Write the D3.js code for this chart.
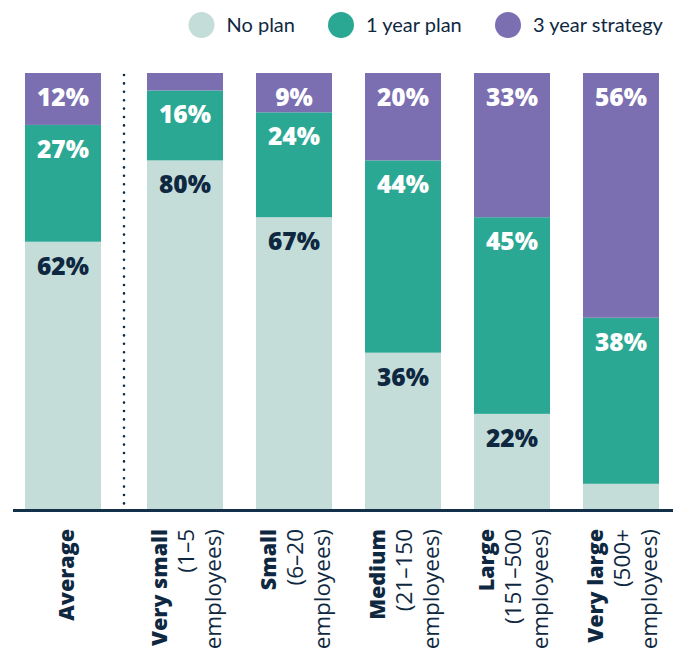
<!DOCTYPE html>
<html>
<head>
<meta charset="utf-8">
<script src="https://cdn.jsdelivr.net/npm/d3@7"></script>
<style>
  html, body { margin: 0; padding: 0; background: #fff; }
  svg { display: block; font-family: Lato, "Noto Sans", sans-serif; }
</style>
</head>
<body>
<svg id="chart" width="686" height="653"></svg>
<script>
// ---- data ----
const categories = ["Average", "Very small", "Small", "Medium", "Large", "Very large"];
const labelLines = [
  ["Average"],
  ["Very small", "(1–5", "employees)"],
  ["Small", "(6–20", "employees)"],
  ["Medium", "(21–150", "employees)"],
  ["Large", "(151–500", "employees)"],
  ["Very large", "(500+", "employees)"]
];
const seriesNames = ["No plan", "1 year plan", "3 year strategy"];
const noPlan       = [62, 80, 67, 36, 22, 6];
const oneYearPlan  = [27, 16, 24, 44, 45, 38];
const threeYear    = [12, 4, 9, 20, 33, 56];
const showLabel = [
  [true, true, true, true, true, false],
  [true, true, true, true, true, true],
  [true, false, true, true, true, true]
];
const colors = ["#c5ddd9", "#2ba894", "#7b6fb2"];
const textColors = ["#0f2841", "#ffffff", "#ffffff"];
const navy = "#0f2841";

// ---- build table ----
const table = categories.map((c, i) => ({
  cat: c, "No plan": noPlan[i], "1 year plan": oneYearPlan[i], "3 year strategy": threeYear[i]
}));
const stacked = d3.stack().keys(seriesNames).offset(d3.stackOffsetExpand)(table);

const svg = d3.select("#chart");

// ---- scales ----
const xAvg = d3.scaleBand().domain(["Average"]).range([25, 101]).padding(0);
const xGroups = d3.scaleBand().domain(categories.slice(1)).range([147, 659])
  .paddingInner(33 / 109).paddingOuter(0);
const xPos = c => c === "Average" ? xAvg(c) : xGroups(c);
const bw = xGroups.bandwidth();
const y = d3.scaleLinear().domain([0, 1]).range([510, 73]);

// ---- bars ----
const layers = svg.append("g").selectAll("g").data(stacked).join("g")
  .attr("fill", (d, i) => colors[i]);
layers.selectAll("rect").data(d => d).join("rect")
  .attr("x", d => xPos(d.data.cat))
  .attr("width", bw)
  .attr("y", d => y(d[1]))
  .attr("height", d => y(d[0]) - y(d[1]));

// ---- value labels ----
stacked.forEach((layer, si) => {
  svg.append("g").selectAll("text").data(layer.filter((d, i) => showLabel[si][i])).join("text")
    .attr("x", d => xPos(d.data.cat) + bw / 2)
    .attr("y", d => y(d[1]) + 33)
    .attr("text-anchor", "middle")
    .attr("font-family", "'Open Sans', sans-serif")
    .attr("font-size", 24.5)
    .attr("font-weight", 800)
    .attr("fill", textColors[si])
    .text(d => d.data[layer.key] + "%");
});

// ---- dotted separator ----
svg.append("line")
  .attr("x1", 124).attr("x2", 124).attr("y1", 75).attr("y2", 506)
  .attr("stroke", navy).attr("stroke-width", 2.6)
  .attr("stroke-linecap", "round").attr("stroke-dasharray", "0 8.4");

// ---- baseline ----
svg.append("line")
  .attr("x1", 13).attr("x2", 673).attr("y1", y(0) + 0.5).attr("y2", y(0) + 0.5)
  .attr("stroke", "#13304b").attr("stroke-width", 3);

// ---- x labels ----
const lx = svg.append("g");
categories.forEach((c, i) => {
  const cx = xPos(c) + bw / 2;
  const lines = labelLines[i];
  const offs = lines.length === 1 ? [3.5] : [-26, 1, 28];
  const g = lx.append("g").attr("transform", `translate(${cx},529) rotate(-90)`);
  lines.forEach((t, j) => {
    g.append("text")
      .attr("x", 0)
      .attr("y", offs[j])
      .attr("dy", "0.36em")
      .attr("text-anchor", "end")
      .attr("font-family", "'Open Sans', sans-serif")
      .attr("font-size", j === 0 ? 21.5 : 22.5)
      .attr("font-weight", j === 0 ? 800 : 400)
      .attr("fill", navy)
      .text(t);
  });
});

// ---- legend ----
const legendX = [201.5, 341, 508];
const lg = svg.append("g").selectAll("g").data(seriesNames).join("g")
  .attr("transform", (d, i) => `translate(${legendX[i]},25)`);
lg.append("circle").attr("r", 13).attr("fill", (d, i) => colors[i]);
lg.append("text")
  .attr("x", 25).attr("dy", "0.35em")
  .attr("font-size", 20).attr("fill", navy)
  .text(d => d);
</script>
</body>
</html>
